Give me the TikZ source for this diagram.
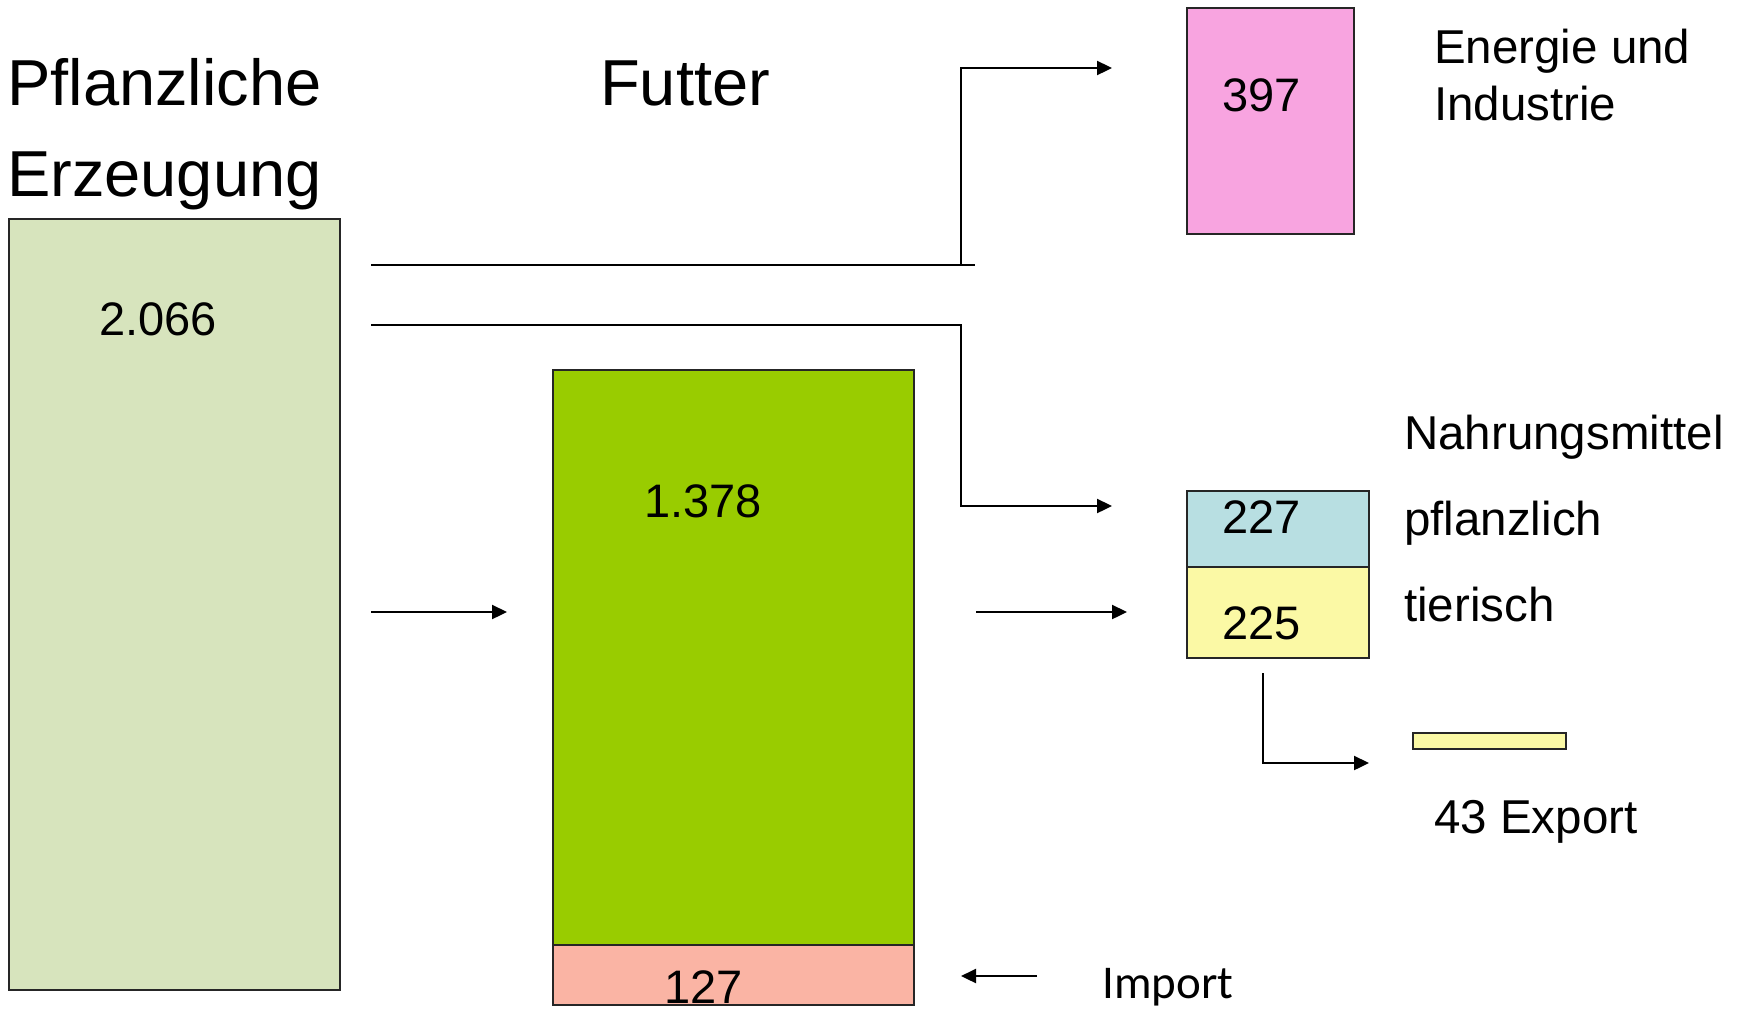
\documentclass[tikz,border=0pt]{standalone}
\usepackage{fontspec}
\setmainfont{Liberation Sans}
\newfontfamily\importfont{Carlito}
\usetikzlibrary{arrows.meta}
\definecolor{pflgreen}{HTML}{D7E4BD}
\definecolor{futgreen}{HTML}{99CC00}
\definecolor{salmon}{HTML}{FAB4A4}
\definecolor{pinkbox}{HTML}{F8A4E0}
\definecolor{bluebox}{HTML}{B8DFE2}
\definecolor{yellowbox}{HTML}{FBF9A5}
\tikzset{
  box/.style={draw=black!85, line width=2pt, anchor=north west, inner sep=0pt, outer sep=0pt},
  conn/.style={line width=2.3pt, black},
  arr/.style={conn, -{Triangle[length=15pt,width=14pt]}},
  title/.style={anchor=base west, inner sep=0pt, font=\fontsize{65}{76}\selectfont},
  lbl/.style={anchor=base west, inner sep=0pt, font=\fontsize{47.5}{56}\selectfont},
  num/.style={anchor=base west, inner sep=0pt, font=\fontsize{47}{55}\selectfont},
}
\begin{document}
\begin{tikzpicture}[x=1pt,y=-1pt]
\useasboundingbox (0,0) rectangle (1744,1010);
% boxes
\node[box, fill=pflgreen, minimum width=331pt, minimum height=771pt] (pe) at (9,219) {};
\node[box, fill=futgreen, minimum width=361pt, minimum height=575pt] (fu) at (553,370) {};
\node[box, fill=salmon, minimum width=361pt, minimum height=60pt] (im) at (553,945) {};
\node[box, fill=pinkbox, minimum width=167pt, minimum height=226pt] (en) at (1187,8) {};
\node[box, fill=bluebox, minimum width=182pt, minimum height=76pt] (np) at (1187,491) {};
\node[box, fill=yellowbox, minimum width=182pt, minimum height=91pt] (nt) at (1187,567) {};
\node[box, fill=yellowbox, minimum width=153pt, minimum height=16pt] (ex) at (1413,733) {};
% numbers
\node[num] (n2066) at (99,335) {2.066};
\node[num] (n1378) at (644,517) {1.378};
\node[num] (n127) at (664,1003) {127};
\node[num] (n397) at (1222,111) {397};
\node[num] (n227) at (1222,533) {227};
\node[num] (n225) at (1222,639) {225};
% titles and labels
\node[title] (t1) at (7,105) {Pflanzliche};
\node[title] (t2) at (7,196) {Erzeugung};
\node[title] (t3) at (600,105) {Futter};
\node[lbl] (l1) at (1434,63) {Energie und};
\node[lbl] (l2) at (1434,120) {Industrie};
\node[lbl] (l3) at (1404,449) {Nahrungsmittel};
\node[lbl] (l4) at (1404,535) {pflanzlich};
\node[lbl] (l5) at (1404,621) {tierisch};
\node[lbl] (l6) at (1434,833) {43 Export};
\node[anchor=base west, inner sep=0pt, font=\importfont\fontsize{47}{56}\selectfont] (l7) at (1102,998) {Import};
% connector coordinates
\coordinate (a1s) at (371,265);
\coordinate (a1x) at (975,265);
\coordinate (a1j) at (961,265);
\coordinate (a1e) at (1112,68);
\coordinate (a2s) at (371,325);
\coordinate (a2k) at (961,506);
\coordinate (a2e) at (1112,506);
\coordinate (a3s) at (371,612);
\coordinate (a3e) at (507,612);
\coordinate (a4s) at (976,612);
\coordinate (a4e) at (1127,612);
\coordinate (a5s) at (1263,673);
\coordinate (a5e) at (1369,763);
\coordinate (a6s) at (1037,976);
\coordinate (a6e) at (961,976);
% connectors
\draw[conn] (a1s) -- (a1x);
\draw[arr] (a1j) |- (a1e);
\draw[arr] (a2s) -| (a2k) -- (a2e);
\draw[arr] (a3s) -- (a3e);
\draw[arr] (a4s) -- (a4e);
\draw[arr] (a5s) |- (a5e);
\draw[arr] (a6s) -- (a6e);
\end{tikzpicture}
\end{document}
